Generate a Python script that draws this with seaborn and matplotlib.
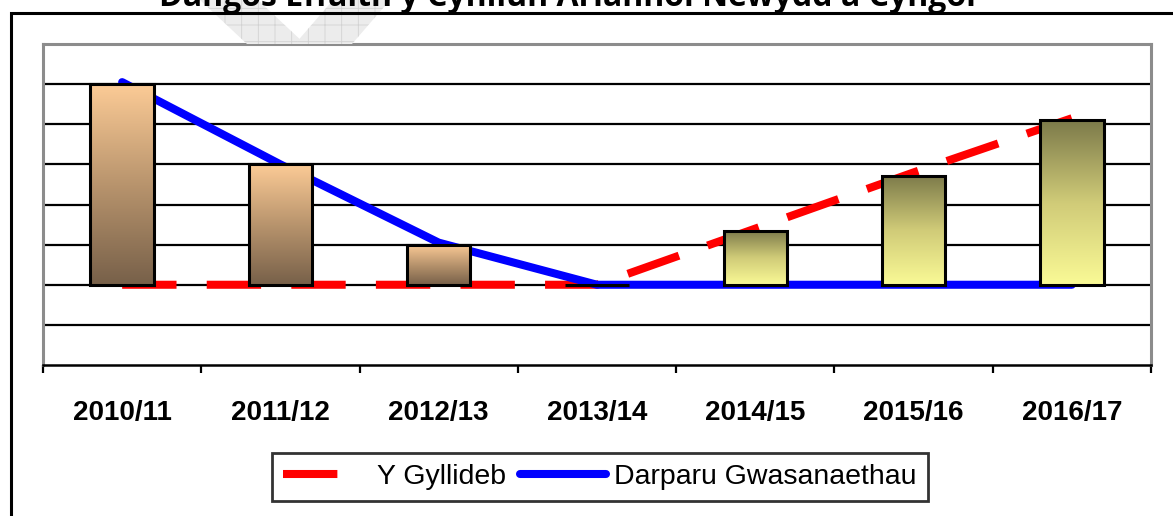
import numpy as np
import pandas as pd
import matplotlib
matplotlib.use("Agg")
import matplotlib.pyplot as plt
from matplotlib.patches import Rectangle, Polygon
from matplotlib.lines import Line2D
from matplotlib.colors import LinearSegmentedColormap
import seaborn as sns

# ---- data ----
years = ["2010/11", "2011/12", "2012/13", "2013/14", "2014/15", "2015/16", "2016/17"]
bar_values = [5.0, 3.0, 1.0, 0.0, 1.35, 2.72, 4.1]
budget = [0.0, 0.0, 0.0, 0.0, 1.4, 2.8, 4.15]          # Y Gyllideb
services = [5.05, 3.0, 1.05, 0.0, 0.0, 0.0, 0.0]       # Darparu Gwasanaethau
legend_labels = ["Y Gyllideb", "Darparu Gwasanaethau"]
title_text = "Dangos Effaith y Cynllun Ariannol Newydd a Cyngor"

sns.set_theme(style="white")
plt.rcParams["font.family"] = ["Liberation Sans", "DejaVu Sans"]
plt.rcParams["hatch.linewidth"] = 0.6

W, H = 1173, 516
fig = plt.figure(figsize=(W / 100, H / 100), dpi=100)

def fx(px):
    return px / W

def fy(py):
    return 1 - py / H

# watermark (faint, behind everything)
for pts in ([[200, 0], [258, 0], [305, 44], [247, 44]],
            [[333, 0], [390, 0], [352, 44], [295, 44]]):
    fig.patches.append(Polygon([[fx(a), fy(b)] for a, b in pts], closed=True,
                               transform=fig.transFigure, facecolor="#ececec",
                               edgecolor="#d2d2d2", linewidth=0, hatch="+", zorder=0))

# outer chart frame
fig.patches.append(Rectangle((fx(11), fy(530)), fx(1200) - fx(11), fy(13) - fy(530),
                             transform=fig.transFigure, facecolor="none", edgecolor="black",
                             linewidth=2.2, zorder=1))

ax = fig.add_axes([fx(43), fy(365), fx(1151) - fx(43), fy(44) - fy(365)])
ax.set_facecolor("white")

df = pd.DataFrame({"year": years, "value": bar_values, "budget": budget,
                   "services": services, "pos": np.arange(len(years))})

# lines (behind bars)
sns.lineplot(data=df, x="pos", y="budget", ax=ax, color="#ff0000", linewidth=5.8,
             linestyle=(0, (6.75, 3.75)), dash_capstyle="butt", zorder=2, legend=False)
sns.lineplot(data=df, x="pos", y="services", ax=ax, color="#0000ff", linewidth=5.8,
             solid_capstyle="round", zorder=3, legend=False)

# bars
sns.barplot(data=df, x="pos", y="value", ax=ax, width=0.40, color="#cccccc",
            native_scale=True, zorder=4, edgecolor="black", linewidth=2.2)

warm = LinearSegmentedColormap.from_list("warm", ["#776049", "#b8946d", "#fccb96"])
olive = LinearSegmentedColormap.from_list("olive", ["#fafa96", "#d0cb78", "#7c7a4a"])
grad = np.linspace(0, 1, 256).reshape(-1, 1)
for i, p in enumerate(ax.patches):
    x0, y0 = p.get_x(), p.get_y()
    w, h = p.get_width(), p.get_height()
    cmap = warm if i < 3 else olive
    if h > 0:
        im = ax.imshow(grad, extent=[x0, x0 + w, y0, y0 + h], origin="lower", aspect="auto",
                       cmap=cmap, zorder=4, interpolation="bilinear")
        im.set_clip_path(p)
    p.set_facecolor("none")
    p.set_zorder(5)

ax.set_xlim(-0.5, len(years) - 0.5)
ax.set_ylim(-2, 6)
ax.set_yticks(np.arange(-1, 6))
ax.set_yticklabels([])
ax.tick_params(axis="y", length=0)
ax.grid(axis="y", color="black", linewidth=1.6, zorder=1)
ax.set_axisbelow(True)
ax.set_xlabel("")
ax.set_ylabel("")

ax.set_xticks(np.arange(len(years)))
ax.set_xticklabels(years, fontsize=20, fontweight="bold", color="black")
ax.set_xticks(np.arange(len(years) + 1) - 0.5, minor=True)
ax.tick_params(axis="x", which="major", length=0, pad=25)
ax.tick_params(axis="x", which="minor", length=6, width=1.6, color="black", direction="out",
               bottom=True)

for side in ["left", "top", "right"]:
    ax.spines[side].set_color("#8c8c8c")
    ax.spines[side].set_linewidth(2.2)
    ax.spines[side].set_visible(True)
ax.spines["bottom"].set_color("black")
ax.spines["bottom"].set_linewidth(1.8)
ax.spines["bottom"].set_visible(True)

# legend
handles = [Line2D([0], [0], color="#ff0000", linewidth=5.8, linestyle=(0, (6.75, 6.0)),
                  dash_capstyle="butt"),
           Line2D([0], [0], color="#0000ff", linewidth=5.8, solid_capstyle="round")]
leg = fig.legend(handles, legend_labels, loc="center", bbox_to_anchor=(fx(600), fy(477)),
                 ncol=2, fontsize=20.5, frameon=True, fancybox=False, handlelength=3.0,
                 handletextpad=0.3, columnspacing=0.5, borderpad=0.4, borderaxespad=0)
leg.get_frame().set_edgecolor("black")
leg.get_frame().set_linewidth(2)
leg.get_frame().set_facecolor("white")
for t in leg.get_texts():
    t.set_color("black")

# title (cut off at top of image, as in the original)
fig.text(fx(570), fy(-3), title_text, ha="center", va="center", fontsize=23,
         fontweight="bold", family=["Open Sans", "DejaVu Sans"], color="black")

fig.savefig("out.png", dpi=100)
